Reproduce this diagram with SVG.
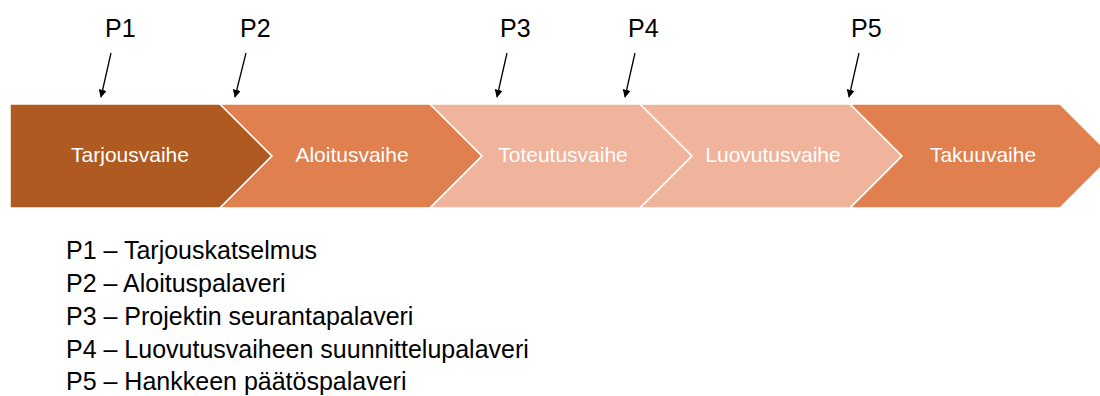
<svg xmlns="http://www.w3.org/2000/svg" width="1100" height="396" viewBox="0 0 1100 396">
  <defs>
    <marker id="ah" viewBox="0 0 10 10" refX="9" refY="5" markerWidth="8" markerHeight="8" markerUnits="userSpaceOnUse" orient="auto">
      <path d="M0,0 L10,5 L0,10 z" fill="#000"/>
    </marker>
    <style>
      .stage { stroke: #ffffff; stroke-width: 1.5; }
      .dark { fill: #AE5A21; }
      .mid { fill: #E0804F; }
      .light { fill: #F0B39C; }
      .lbl { font-family: "Liberation Sans", Arial, sans-serif; font-size: 21px; fill: #ffffff; text-anchor: middle; }
      .ptag { font-family: "Liberation Sans", Arial, sans-serif; font-size: 25px; fill: #000000; }
      .legend { font-family: "Liberation Sans", Arial, sans-serif; font-size: 25px; fill: #000000; }
      .arr { stroke: #000; stroke-width: 1.3; fill: none; marker-end: url(#ah); }
    </style>
  </defs>
  <rect width="1100" height="396" fill="#ffffff"/>

  <g id="stage-tarjousvaihe">
    <polygon class="stage dark" points="10,104 220,104 272,156 220,208 10,208"/>
    <text class="lbl" x="130" y="162">Tarjousvaihe</text>
  </g>
  <g id="stage-aloitusvaihe">
    <polygon class="stage mid" points="220,104 430,104 482,156 430,208 220,208 272,156"/>
    <text class="lbl" x="352" y="162">Aloitusvaihe</text>
  </g>
  <g id="stage-toteutusvaihe">
    <polygon class="stage light" points="430,104 640,104 692,156 640,208 430,208 482,156"/>
    <text class="lbl" x="563" y="162">Toteutusvaihe</text>
  </g>
  <g id="stage-luovutusvaihe">
    <polygon class="stage light" points="640,104 850,104 902,156 850,208 640,208 692,156"/>
    <text class="lbl" x="773" y="162">Luovutusvaihe</text>
  </g>
  <g id="stage-takuuvaihe">
    <polygon class="stage mid" points="850,104 1060,104 1112,156 1060,208 850,208 902,156"/>
    <text class="lbl" x="983" y="162">Takuuvaihe</text>
  </g>

  <g id="p-labels">
    <text class="ptag" x="105" y="37">P1</text>
    <text class="ptag" x="240" y="37">P2</text>
    <text class="ptag" x="500" y="37">P3</text>
    <text class="ptag" x="628" y="37">P4</text>
    <text class="ptag" x="851" y="37">P5</text>
  </g>

  <g id="connectors">
    <line class="arr" x1="111" y1="53" x2="101" y2="97"/>
    <line class="arr" x1="246" y1="53" x2="235" y2="97"/>
    <line class="arr" x1="507" y1="53" x2="497" y2="97"/>
    <line class="arr" x1="635" y1="53" x2="625" y2="97"/>
    <line class="arr" x1="859" y1="53" x2="849" y2="97"/>
  </g>

  <g id="legend">
    <text class="legend" x="66" y="259">P1 – Tarjouskatselmus</text>
    <text class="legend" x="66" y="292">P2 – Aloituspalaveri</text>
    <text class="legend" x="66" y="325">P3 – Projektin seurantapalaveri</text>
    <text class="legend" x="66" y="358">P4 – Luovutusvaiheen suunnittelupalaveri</text>
    <text class="legend" x="66" y="390">P5 – Hankkeen päätöspalaveri</text>
  </g>
</svg>
